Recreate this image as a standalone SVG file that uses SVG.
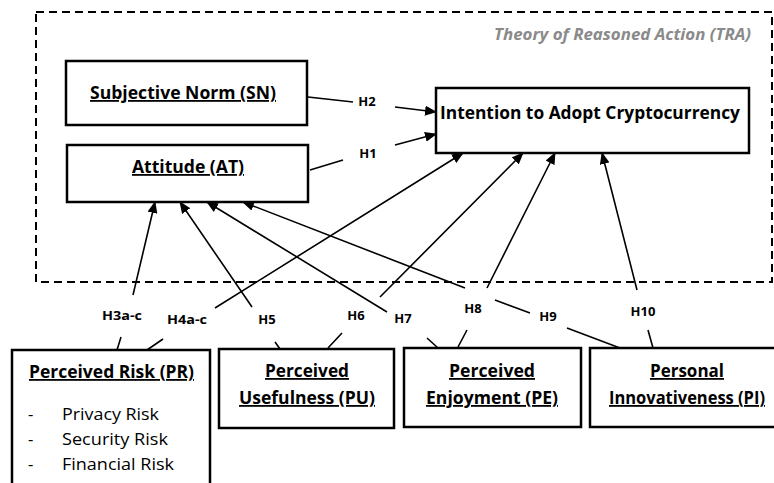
<svg xmlns="http://www.w3.org/2000/svg" width="774" height="483" viewBox="0 0 774 483">
<defs>
<marker id="arr" viewBox="0 0 12 10" refX="11" refY="5" markerWidth="12" markerHeight="10" markerUnits="userSpaceOnUse" orient="auto">
<path d="M0,0 L12,5 L0,10 Z" fill="#000"/>
</marker>
<style>
.box{fill:#fff;stroke:#000;stroke-width:2.5}
.t{font-family:"Open Sans","Liberation Sans",sans-serif;font-weight:bold;font-size:18px;fill:#000;text-anchor:middle}
.u{text-decoration:underline}
.r{font-family:"Open Sans","Liberation Sans",sans-serif;font-size:16.5px;fill:#000}
.h{font-family:"Open Sans","Liberation Sans",sans-serif;font-weight:bold;font-size:13px;fill:#000;text-anchor:middle}
.c{fill:none;stroke:#000;stroke-width:1.6}
</style>
</defs>
<rect width="774" height="483" fill="#fff"/>
<g id="tra">
<rect x="36" y="12" width="736" height="270" fill="none" stroke="#000" stroke-width="2" stroke-dasharray="8 5"/>
<text x="751" y="40" font-family="'Open Sans','Liberation Sans',sans-serif" font-size="15.5" font-weight="bold" font-style="italic" fill="#8a8a8a" text-anchor="end" textLength="257" lengthAdjust="spacingAndGlyphs">Theory of Reasoned Action (TRA)</text>
</g>
<g id="connectors">
<path class="c" d="M308,97 L353,102 M395,107 L436,112" marker-end="url(#arr)"/>
<path class="c" d="M310,170 L343,160 M395,145 L436,134" marker-end="url(#arr)"/>
<path class="c" d="M117,350 L121,337 M133,295 L155,202" marker-end="url(#arr)"/>
<path class="c" d="M147,350 L163,339 M215,308 L463,153" marker-end="url(#arr)"/>
<path class="c" d="M280,349 L275,342 M252,307 L180,202" marker-end="url(#arr)"/>
<path class="c" d="M328,348 L342,333 M380,297 L523,153" marker-end="url(#arr)"/>
<path class="c" d="M438,348 L427,338 M387,312 L207,202" marker-end="url(#arr)"/>
<path class="c" d="M458,347 L467,330 M487,288 L555,153" marker-end="url(#arr)"/>
<path class="c" d="M620,348 L567,328 M530,313 L495,300 M465,288 L243,202" marker-end="url(#arr)"/>
<path class="c" d="M653,348 L648,330 M637,290 L602,153" marker-end="url(#arr)"/>
<text class="h" x="367" y="106">H2</text>
<text class="h" x="368" y="158">H1</text>
<text class="h" x="122" y="320" textLength="40" lengthAdjust="spacingAndGlyphs">H3a-c</text>
<text class="h" x="187" y="324" textLength="40" lengthAdjust="spacingAndGlyphs">H4a-c</text>
<text class="h" x="267" y="324">H5</text>
<text class="h" x="356" y="320">H6</text>
<text class="h" x="403" y="323">H7</text>
<text class="h" x="473" y="313">H8</text>
<text class="h" x="548" y="321">H9</text>
<text class="h" x="643" y="316">H10</text>
</g>
<g id="sn">
<rect class="box" x="66" y="61" width="241" height="64"/>
<text class="t u" x="183" y="99" textLength="186" lengthAdjust="spacingAndGlyphs">Subjective Norm (SN)</text>
</g>
<g id="at">
<rect class="box" x="67" y="145" width="241" height="57"/>
<text class="t u" x="188" y="173" textLength="112" lengthAdjust="spacingAndGlyphs">Attitude (AT)</text>
</g>
<g id="intention">
<rect class="box" x="436" y="88" width="313" height="65"/>
<text class="t" x="590" y="119" textLength="300" lengthAdjust="spacingAndGlyphs">Intention to Adopt Cryptocurrency</text>
</g>
<g id="pr">
<rect class="box" x="12" y="350" width="198" height="150"/>
<text class="t u" x="111.5" y="378" textLength="165" lengthAdjust="spacingAndGlyphs">Perceived Risk (PR)</text>
<text class="r" x="28" y="420">-</text>
<text class="r" x="62" y="420" textLength="97" lengthAdjust="spacingAndGlyphs">Privacy Risk</text>
<text class="r" x="28" y="445">-</text>
<text class="r" x="62" y="445" textLength="106" lengthAdjust="spacingAndGlyphs">Security Risk</text>
<text class="r" x="28" y="470">-</text>
<text class="r" x="62" y="470" textLength="112" lengthAdjust="spacingAndGlyphs">Financial Risk</text>
</g>
<g id="pu">
<rect class="box" x="219" y="349" width="175" height="79"/>
<text class="t u" x="307" y="377" textLength="84" lengthAdjust="spacingAndGlyphs">Perceived</text>
<text class="t u" x="307" y="404" textLength="136" lengthAdjust="spacingAndGlyphs">Usefulness (PU)</text>
</g>
<g id="pe">
<rect class="box" x="404" y="348" width="177" height="79"/>
<text class="t u" x="492" y="377" textLength="86" lengthAdjust="spacingAndGlyphs">Perceived</text>
<text class="t u" x="492" y="404" textLength="132" lengthAdjust="spacingAndGlyphs">Enjoyment (PE)</text>
</g>
<g id="pi">
<rect class="box" x="590" y="348" width="200" height="79"/>
<text class="t u" x="687" y="377" textLength="74" lengthAdjust="spacingAndGlyphs">Personal</text>
<text class="t u" x="687" y="404" font-size="17" textLength="156" lengthAdjust="spacingAndGlyphs">Innovativeness (PI)</text>
</g>
</svg>
